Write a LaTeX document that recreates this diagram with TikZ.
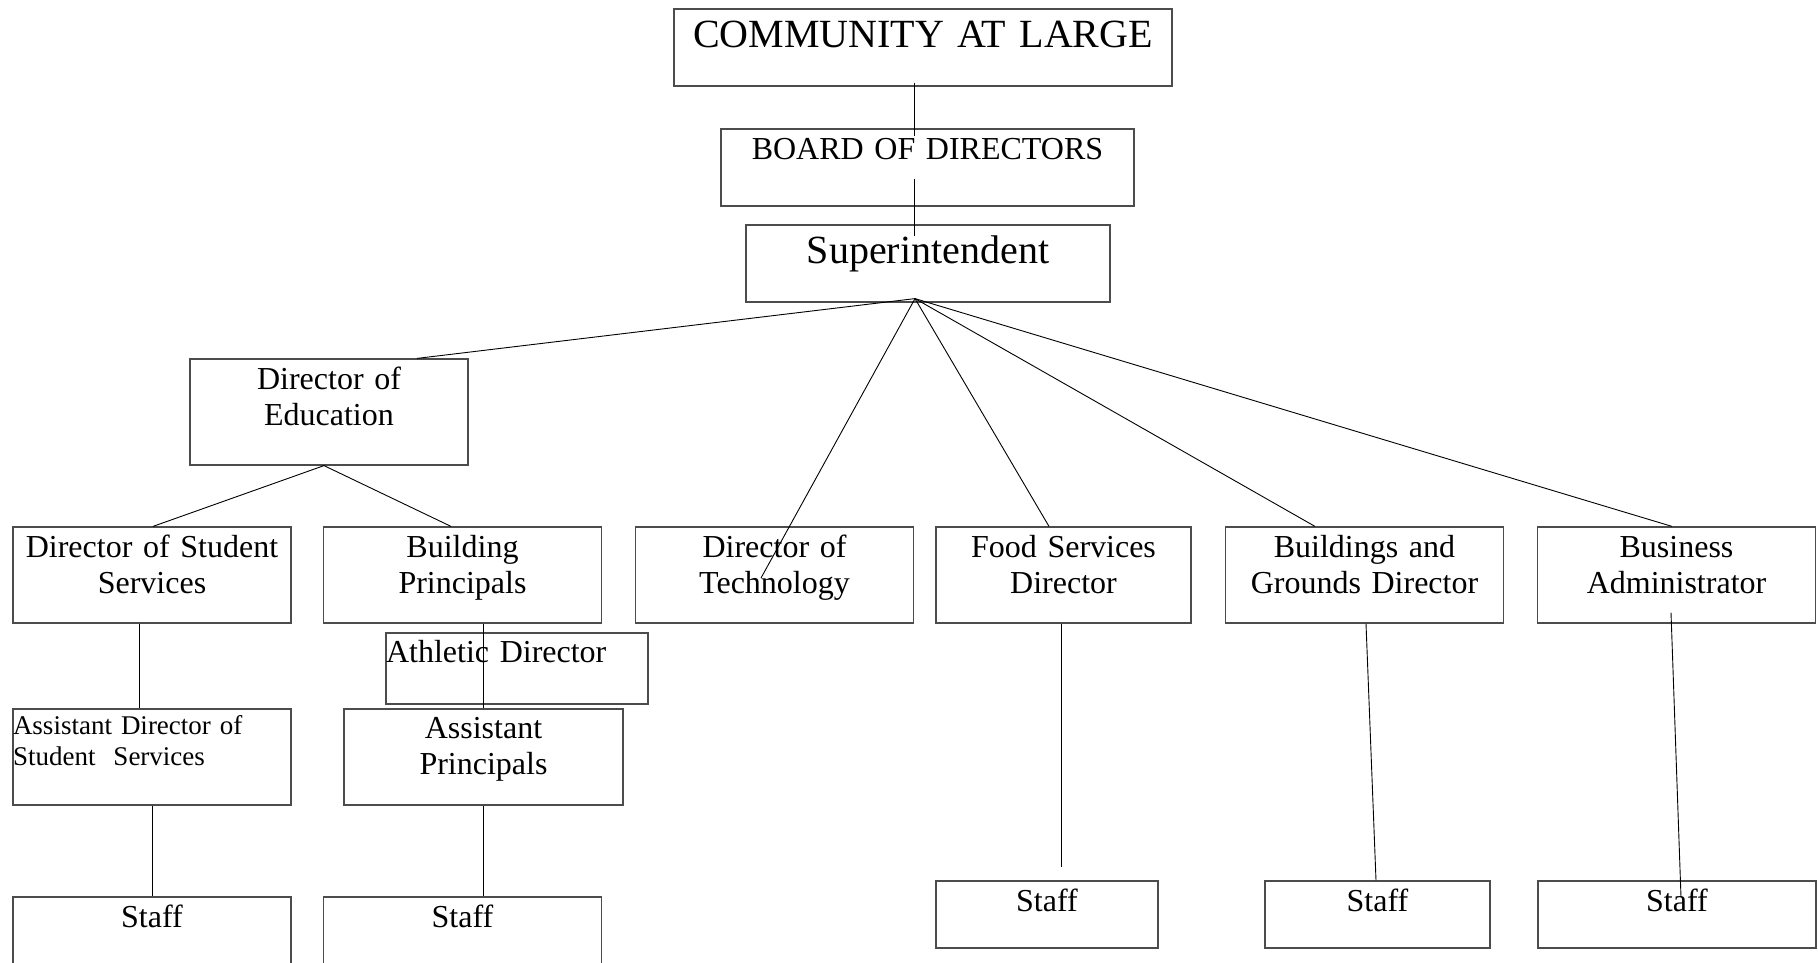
\documentclass[tikz,border=0pt]{standalone}
\usepackage{fontspec}
\setmainfont{Liberation Serif}
\begin{document}
\begin{tikzpicture}[x=1pt, y=-1pt,
  box/.style={draw=black!70, line width=1.2pt, inner sep=0pt, align=center, font=\fontsize{32}{36.5}\selectfont},
  rowbox/.style={box, text width=278pt, text height=30pt, text depth=66pt},
  staffbox/.style={box, text height=30pt, text depth=37pt},
  link/.style={draw=black, line width=0.9pt}]
\useasboundingbox (0,0) rectangle (1818,962);
% top of the chart
\node[box, text width=498pt, text height=38pt, text depth=39pt, font=\fontsize{40}{44}\selectfont] (comm) at (923,47.5) {COMMUNITY AT LARGE};
\node[box, text width=413pt, text height=30pt, text depth=47pt] (board) at (927.5,167.5) {BOARD OF DIRECTORS};
\node[box, text width=364pt, text height=38pt, text depth=39pt, font=\fontsize{40}{44}\selectfont] (sup) at (928,263.5) {Superintendent};
\node[box, text width=278pt, text height=30pt, text depth=76pt] (dired) at (329,412) {Director of\\Education};
% second level
\node[rowbox] (dss) at (152,575) {Director of Student\\Services};
\node[rowbox] (bp) at (462.5,575) {Building\\Principals};
\node[rowbox] (dt) at (774.5,575) {Director of\\Technology};
\node[rowbox, text width=255pt] (fsd) at (1063.5,575) {Food Services\\Director};
\node[rowbox] (bgd) at (1364.5,575) {Buildings and\\Grounds Director};
\node[rowbox] (ba) at (1676.5,575) {Business\\Administrator};
% assistants
\node[box, align=left, text width=262pt, text height=29pt, text depth=42pt] (ad) at (517,668.5) {Athletic Director};
\node[box, align=left, text width=278pt, text height=25pt, text depth=71pt, font=\fontsize{27}{31}\selectfont] (adss) at (152,757) {Assistant Director of\\Student~~Services};
\node[box, text width=279pt, text height=29pt, text depth=67pt] (ap) at (483.5,757) {Assistant\\Principals};
% staff
\node[rowbox] (staff1) at (152,945) {Staff};
\node[rowbox] (staff2) at (462.5,945) {Staff};
\node[staffbox, text width=222pt] (staff3) at (1047,914.5) {Staff};
\node[staffbox, text width=225pt] (staff4) at (1377.5,914.5) {Staff};
\node[staffbox, text width=278pt] (staff5) at (1677,914.5) {Staff};
% connectors
\coordinate (hub) at ([shift={(-13,-4)}]sup.south);
\draw[link] ([shift={(-9,-4)}]comm.south) -- ([shift={(-13.5,8)}]board.north);
\draw[link] ([shift={(-13.5,-28)}]board.south) -- ([shift={(-14,12)}]sup.north);
\draw[link] (hub) -- ([xshift=88pt]dired.north);
\draw[link] (hub) -- ([shift={(-13.5,3)}]dt.center);
\draw[link] (hub) -- ([xshift=-14.5pt]fsd.north);
\draw[link] (hub) -- ([xshift=-49.5pt]bgd.north);
\draw[link] (hub) -- ([xshift=-4.5pt]ba.north);
\draw[link] ([xshift=-5pt]dired.south) -- ([xshift=1pt]dss.north);
\draw[link] ([xshift=-5pt]dired.south) -- ([xshift=-11.5pt]bp.north);
\draw[link] ([xshift=-13pt]dss.south) -- ([xshift=-13pt]adss.north);
\draw[link] (bp.south -| ap.north) -- (ap.north);
\draw[link] (adss.south) -- (staff1.north);
\draw[link] (ap.south) -- (ap.south |- staff2.north);
\draw[link] ([xshift=-2.5pt]fsd.south) -- ([shift={(14,-13)}]staff3.north);
\draw[link] ([xshift=1.5pt]bgd.south) -- ([xshift=-1.5pt]staff4.north);
\draw[link] ([shift={(-5.5,-11)}]ba.south) -- ([shift={(4,17)}]staff5.north);
\end{tikzpicture}
\end{document}
